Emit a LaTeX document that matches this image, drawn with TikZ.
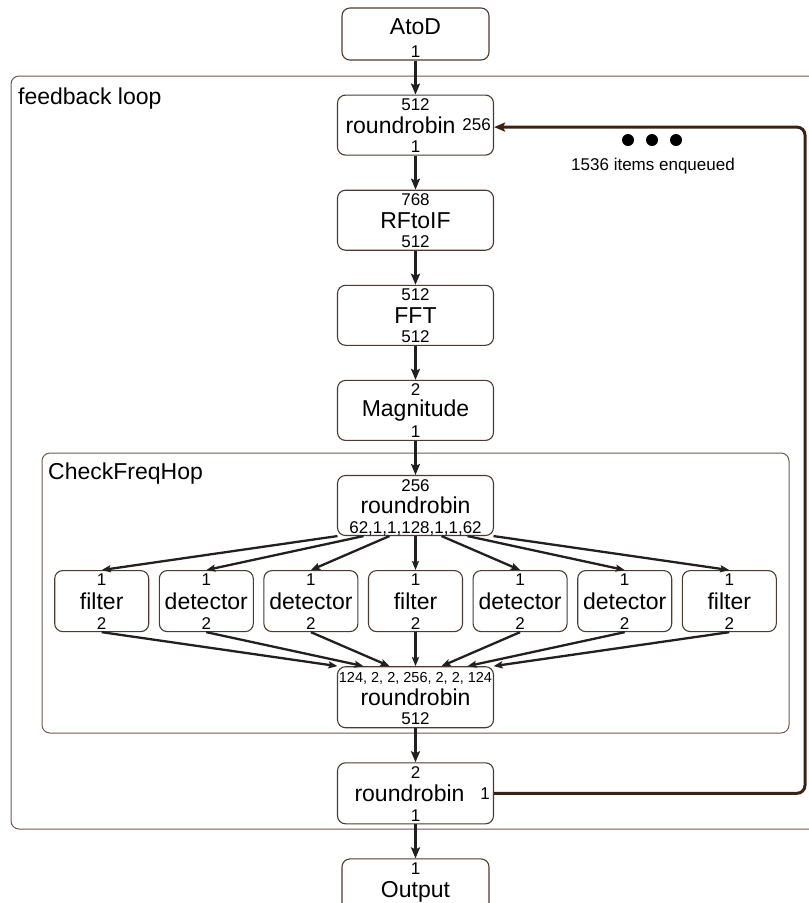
\documentclass[tikz,border=0pt]{standalone}
\usepackage{fontspec}
\setmainfont{Liberation Sans}
\usetikzlibrary{arrows.meta, positioning}

\definecolor{boxline}{HTML}{4A3A32}
\definecolor{groupline}{HTML}{6A5A50}
\definecolor{wire}{HTML}{231F20}
\definecolor{loopline}{HTML}{3A2215}

\newcommand\mainsize{\fontsize{23}{26}\selectfont}
\newcommand\numsize{\fontsize{17}{19}\selectfont}
\newcommand\smallnum{\fontsize{14.5}{16}\selectfont}

\begin{document}
\begin{tikzpicture}[
  x=1pt, y=-1pt,
  node distance=34pt and 9.5pt,
  box/.style={draw=boxline, line width=1.1pt, rounded corners=8pt, minimum width=156pt, minimum height=60pt, inner sep=0pt, font=\mainsize},
  kernel/.style={box, minimum width=94pt, minimum height=61pt},
  num/.style={inner sep=0pt, font=\numsize},
  ports/.style 2 args={label={[num, anchor=north, yshift=-4pt]north:{#1}}, label={[num, anchor=base, yshift=3pt]south:{#2}}},
  group/.style={draw=groupline, line width=1pt, rounded corners=8pt},
  grouplabel/.style={anchor=north west, inner sep=0pt, font=\mainsize},
  arrow/.style={-{Stealth[length=11pt, width=9pt, inset=2pt]}, line width=2.6pt, draw=wire},
  fan/.style={-{Stealth[length=9pt, width=7pt, inset=1.5pt]}, line width=2.3pt, draw=wire},
  feedback/.style={-{Stealth[length=11pt, width=9pt, inset=2pt]}, line width=3pt, draw=loopline, rounded corners=8pt},
  dot/.style={circle, fill=black, minimum size=12pt, inner sep=0pt}
]
\useasboundingbox (0,0) rectangle (809,903);
\clip (0,0) rectangle (809,903);

% Containers
\draw[group] (11,76) rectangle (840,829);
\node[grouplabel] (fbLabel) at (18,88) {feedback loop};
\draw[group] (42,453) rectangle (789,733);
\node[grouplabel] (cfhLabel) at (48,463) {CheckFreqHop};

% Main chain
\node[box, minimum width=147pt, minimum height=52pt, text depth=14pt, label={[num, anchor=base, yshift=3pt]south:1}] (AtoD) at (415.5,34) {AtoD};
\node[box, below=of AtoD, ports={512}{1}, label={[num, anchor=east, xshift=-3pt]east:256}] (rrA) {roundrobin\hspace*{30pt}};
\node[box, below=of rrA, ports={768}{512}] (RFtoIF) {RFtoIF};
\node[box, below=of RFtoIF, ports={512}{512}] (FFT) {FFT};
\node[box, below=of FFT, ports={2}{1}] (Mag) {Magnitude};

% CheckFreqHop: split, kernels, join
\node[box, below=of Mag, ports={256}{62,1,1,128,1,1,62}] (split) {roundrobin};
\node[kernel, below=of split, ports={1}{2}] (filtD) {filter};
\node[kernel, left=of filtD, ports={1}{2}] (detC) {detector};
\node[kernel, left=of detC, ports={1}{2}] (detB) {detector};
\node[kernel, left=of detB, ports={1}{2}] (filtA) {filter};
\node[kernel, right=of filtD, ports={1}{2}] (detE) {detector};
\node[kernel, right=of detE, ports={1}{2}] (detF) {detector};
\node[kernel, right=of detF, ports={1}{2}] (filtG) {filter};
\node[box, below=of filtD, minimum height=61pt, label={[num, font=\smallnum, anchor=north, yshift=-6pt]north:{124, 2, 2, 256, 2, 2, 124}}, label={[num, anchor=base, yshift=4pt]south:512}] (join) {roundrobin};

% Tail
\node[box, below=of join, minimum height=61pt, ports={2}{1}, label={[num, anchor=east, xshift=-4pt]east:1}] (rrC) {roundrobin\hspace*{12pt}};
\node[box, below=of rrC, minimum width=147pt, minimum height=56pt, text height=25pt, label={[num, anchor=north, yshift=-4pt]north:1}] (Output) {Output};

% Queue marker
\node[dot] (dotA) at (628,140) {};
\node[dot] (dotB) at (652,140) {};
\node[dot] (dotC) at (676,140) {};
\node[num, anchor=base] (enq) at (653,170) {1536 items enqueued};

% Arrows
\draw[arrow] (AtoD) -- (rrA);
\draw[arrow] (rrA) -- (RFtoIF);
\draw[arrow] (RFtoIF) -- (FFT);
\draw[arrow] (FFT) -- (Mag);
\draw[arrow] (Mag) -- (split);

\draw[fan] ([xshift=-78pt]split.south) -- (filtA.north);
\draw[fan] ([xshift=-52pt]split.south) -- (detB.north);
\draw[fan] ([xshift=-26pt]split.south) -- (detC.north);
\draw[fan] (split.south) -- (filtD.north);
\draw[fan] ([xshift=26pt]split.south) -- (detE.north);
\draw[fan] ([xshift=52pt]split.south) -- (detF.north);
\draw[fan] ([xshift=78pt]split.south) -- (filtG.north);

\draw[fan] (filtA.south) -- ([xshift=-78pt]join.north);
\draw[fan] (detB.south) -- ([xshift=-52pt]join.north);
\draw[fan] (detC.south) -- ([xshift=-26pt]join.north);
\draw[fan] (filtD.south) -- (join.north);
\draw[fan] (detE.south) -- ([xshift=26pt]join.north);
\draw[fan] (detF.south) -- ([xshift=52pt]join.north);
\draw[fan] (filtG.south) -- ([xshift=78pt]join.north);

\draw[arrow] (join) -- (rrC);
\draw[arrow, line width=3pt] (rrC) -- (Output);

% Feedback path
\coordinate (fbEdge) at (805,0);
\coordinate (fbIn) at ([yshift=-2pt]rrA.east);
\draw[feedback] (rrC.east) -- (rrC.east -| fbEdge) -- (fbIn -| fbEdge) -- (fbIn);

\end{tikzpicture}
\end{document}
